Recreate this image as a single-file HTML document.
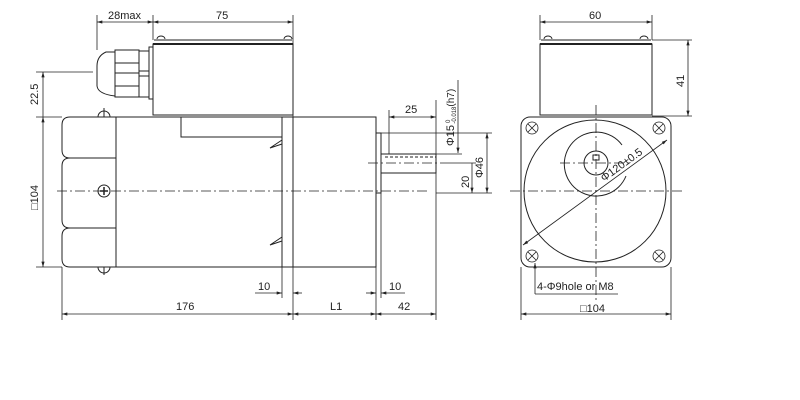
<!DOCTYPE html>
<html><head><meta charset="utf-8"><style>html,body{margin:0;padding:0;background:#fff}svg{display:block}text{font-family:"Liberation Sans",sans-serif;font-size:11px;fill:#222}</style></head><body>
<svg width="800" height="400" viewBox="0 0 800 400" xmlns="http://www.w3.org/2000/svg">
<defs>
<marker id="a" viewBox="0 0 10 6" refX="10" refY="3" markerWidth="8" markerHeight="4" orient="auto-start-reverse"><path d="M0,0 L10,3 L0,6z" fill="#222"/></marker>
</defs>
<g stroke="#222" fill="none" stroke-width="1">
<rect x="153" y="44" width="140" height="71"/>
<line x1="154" y1="40" x2="292" y2="40"/>
<line x1="153" y1="44" x2="293" y2="44" stroke-width="2"/>
<path d="M157,39 a4,3 0 0 1 8,0 M284,39 a4,3 0 0 1 8,0"/>
<path d="M115,52 L106,52 Q97,56 97,66 L97,86 Q98,94 115,96 Z"/>
<rect x="115" y="50" width="24" height="47"/>
<line x1="115" y1="63" x2="139" y2="63"/><line x1="115" y1="73" x2="139" y2="73"/><line x1="115" y1="86" x2="139" y2="86"/>
<rect x="139" y="51" width="10" height="46"/>
<line x1="139" y1="71" x2="149" y2="71"/><line x1="139" y1="76" x2="149" y2="76"/>
<rect x="149" y="47" width="4" height="52"/>
<path d="M116,117 L70,117 Q62,117 62,125 L62,150 Q62,158 70,158 Q62,158 62,166 L62,220 Q62,228 70,228 Q62,228 62,236 L62,259 Q62,267 70,267 L116,267 Z"/>
<line x1="70" y1="158" x2="116" y2="158"/><line x1="70" y1="228" x2="116" y2="228"/>
<rect x="116" y="117" width="166" height="150"/>
<path d="M98,117 a6,6 0 0 1 12,0 M98,267 a6,6 0 0 0 12,0"/>
<line x1="104" y1="108" x2="104" y2="117"/><line x1="104" y1="267" x2="104" y2="275"/>
<circle cx="104" cy="191" r="6"/>
<path d="M100,191 h8 M104,187 v8" stroke-width="1.5"/>
<path d="M181,117 V137 H282"/>
<path d="M282,140 L270,148 L282,144 M282,237 L270,245 L282,241"/>
<rect x="282" y="117" width="11" height="150"/>
<rect x="293" y="117" width="83" height="150"/>
<rect x="376" y="133" width="5" height="60"/>
<rect x="381" y="154" width="55" height="19"/>
<line x1="385" y1="157" x2="436" y2="157" stroke-dasharray="3,2"/>
<g stroke-dasharray="10,3,2,3" stroke-width="0.8">
<line x1="57" y1="191" x2="430" y2="191"/>
<line x1="368" y1="163" x2="440" y2="163"/>
<line x1="510" y1="191" x2="685" y2="191"/>
<line x1="596" y1="105" x2="596" y2="300"/>
<line x1="560" y1="163" x2="630" y2="163"/>
</g>
<g stroke-width="0.8">
<line x1="97" y1="15" x2="97" y2="50"/><line x1="153" y1="15" x2="153" y2="40"/><line x1="293" y1="15" x2="293" y2="320"/>
<line x1="97" y1="22" x2="153" y2="22" marker-start="url(#a)" marker-end="url(#a)"/>
<line x1="153" y1="22" x2="293" y2="22" marker-start="url(#a)" marker-end="url(#a)"/>
<line x1="36" y1="72" x2="93" y2="72"/>
<line x1="36" y1="117" x2="62" y2="117"/><line x1="36" y1="267" x2="62" y2="267"/>
<line x1="43" y1="72" x2="43" y2="117" marker-start="url(#a)"/>
<line x1="43" y1="117" x2="43" y2="267" marker-start="url(#a)" marker-end="url(#a)"/>
<line x1="62" y1="267" x2="62" y2="320"/><line x1="282" y1="267" x2="282" y2="298"/>
<line x1="376" y1="267" x2="376" y2="320"/><line x1="381" y1="193" x2="381" y2="298"/><line x1="436" y1="173" x2="436" y2="320"/>
<line x1="62" y1="314" x2="293" y2="314" marker-start="url(#a)" marker-end="url(#a)"/>
<line x1="293" y1="314" x2="376" y2="314" marker-start="url(#a)" marker-end="url(#a)"/>
<line x1="376" y1="314" x2="436" y2="314" marker-start="url(#a)" marker-end="url(#a)"/>
<line x1="255" y1="293" x2="282" y2="293" marker-end="url(#a)"/><line x1="302" y1="293" x2="293" y2="293" marker-end="url(#a)"/>
<line x1="366" y1="293" x2="376" y2="293" marker-end="url(#a)"/><line x1="405" y1="293" x2="381" y2="293" marker-end="url(#a)"/>
<line x1="389" y1="110" x2="389" y2="154"/>
<line x1="389" y1="117" x2="436" y2="117" marker-start="url(#a)" marker-end="url(#a)"/>
<line x1="436" y1="100" x2="436" y2="154"/>
<line x1="458" y1="80" x2="458" y2="153" marker-end="url(#a)"/>
<line x1="436" y1="154" x2="462" y2="154"/>
<line x1="381" y1="133" x2="492" y2="133"/><line x1="436" y1="193" x2="492" y2="193"/>
<line x1="487" y1="133" x2="487" y2="193" marker-start="url(#a)" marker-end="url(#a)"/>
<line x1="472" y1="163" x2="472" y2="193" marker-end="url(#a)"/>
<line x1="440" y1="163" x2="476" y2="163"/>
</g>
<rect x="540" y="44" width="112" height="71"/>
<line x1="541" y1="40" x2="651" y2="40"/>
<line x1="540" y1="44" x2="652" y2="44" stroke-width="2"/>
<path d="M544,39 a4,3 0 0 1 8,0 M640,39 a4,3 0 0 1 8,0"/>
<rect x="521" y="117" width="150" height="150" rx="9"/>
<circle cx="595" cy="191" r="71"/>
<circle cx="596" cy="163" r="12"/>
<rect x="593" y="155" width="6" height="5"/>
<path d="M622,145 A32,32 0 1 0 626,176"/>
<g stroke-width="0.8">
<circle cx="532" cy="128" r="6"/><path d="M528,124 l8,8 M536,124 l-8,8"/>
<circle cx="659" cy="128" r="6"/><path d="M655,124 l8,8 M663,124 l-8,8"/>
<circle cx="532" cy="256" r="6"/><path d="M528,252 l8,8 M536,252 l-8,8"/>
<circle cx="659" cy="256" r="6"/><path d="M655,252 l8,8 M663,252 l-8,8"/>
<line x1="523" y1="245" x2="667" y2="140" marker-end="url(#a)" marker-start="url(#a)"/>
<line x1="540" y1="15" x2="540" y2="40"/><line x1="652" y1="15" x2="652" y2="40"/>
<line x1="540" y1="22" x2="652" y2="22" marker-start="url(#a)" marker-end="url(#a)"/>
<line x1="652" y1="40" x2="692" y2="40"/><line x1="652" y1="116" x2="692" y2="116"/>
<line x1="688" y1="40" x2="688" y2="116" marker-start="url(#a)" marker-end="url(#a)"/>
<line x1="521" y1="267" x2="521" y2="320"/><line x1="671" y1="267" x2="671" y2="320"/>
<line x1="521" y1="314" x2="671" y2="314" marker-start="url(#a)" marker-end="url(#a)"/>
<path d="M535,294 H618"/>
<line x1="535" y1="294" x2="535" y2="263" marker-end="url(#a)"/>
</g>
</g>
<text x="108" y="19">28max</text>
<text x="216" y="19">75</text>
<text x="38" y="105" transform="rotate(-90 38 105)">22.5</text>
<text x="38" y="210" transform="rotate(-90 38 210)">□104</text>
<text x="176" y="310">176</text>
<text x="330" y="310">L1</text>
<text x="398" y="310">42</text>
<text x="258" y="290">10</text>
<text x="389" y="290">10</text>
<text x="405" y="113">25</text>
<text x="454" y="146" transform="rotate(-90 454 146)">Φ15<tspan font-size="6" dx="2" dy="-4">0</tspan><tspan font-size="6" dx="-4" dy="6">-0.018</tspan><tspan font-size="10" dy="-2">(h7)</tspan></text>
<text x="483" y="178" transform="rotate(-90 483 178)">Φ46</text>
<text x="469" y="188" transform="rotate(-90 469 188)">20</text>
<text x="589" y="19">60</text>
<text x="684" y="87" transform="rotate(-90 684 87)">41</text>
<text x="604" y="182" transform="rotate(-36 604 182)">Φ120±0.5</text>
<text x="537" y="290">4-Φ9hole or M8</text>
<text x="580" y="312">□104</text>
</svg>
</body></html>
